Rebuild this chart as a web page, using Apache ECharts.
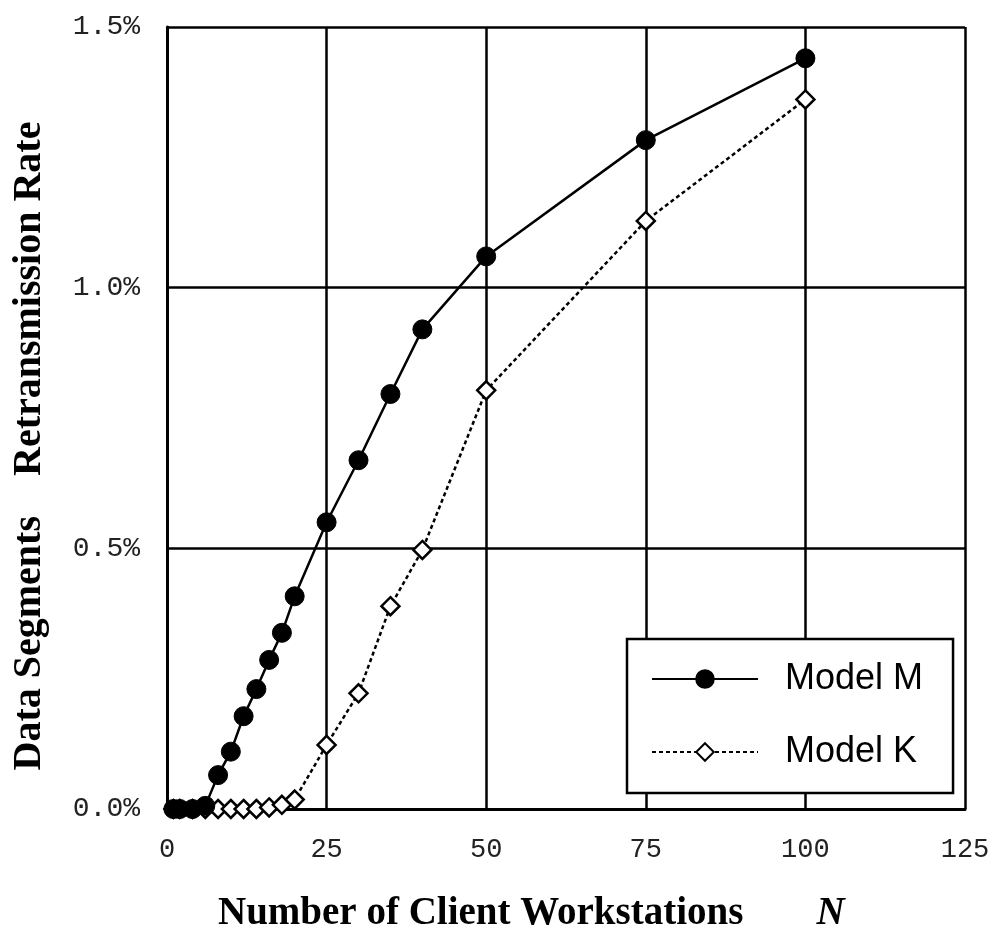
<!DOCTYPE html>
<html>
<head>
<meta charset="utf-8">
<script src="https://cdn.jsdelivr.net/npm/echarts@6/dist/echarts.min.js"></script>
<style>
  html, body { margin: 0; padding: 0; background: #fff; }
  #chart { width: 996px; height: 933px; }
</style>
</head>
<body>
<div id="chart"></div>
<script>
// Number of client workstations N
const workstations = [1, 2, 4, 6, 8, 10, 12, 14, 16, 18, 20, 25, 30, 35, 40, 50, 75, 100];
// Retransmission rate of data segments, in percent
const modelM = [0, 0, 0, 0.006, 0.065, 0.11, 0.178, 0.23, 0.286, 0.338, 0.408, 0.55, 0.669, 0.796, 0.92, 1.06, 1.283, 1.44];
const modelK = [0, 0, 0, 0, 0, 0, 0, 0, 0.003, 0.008, 0.018, 0.123, 0.222, 0.389, 0.497, 0.803, 1.128, 1.361];
const seriesNames = ['Model M', 'Model K'];
const xTicks = [0, 25, 50, 75, 100, 125];
const yTicks = [0, 0.5, 1.0, 1.5];

const pairs = (xs, ys) => xs.map((x, i) => [x, ys[i]]);

const chart = echarts.init(document.getElementById('chart'), null, { renderer: 'canvas' });

const monoFamily = '"Liberation Mono", monospace';

chart.setOption({
  animation: false,
  backgroundColor: '#fff',
  grid: { left: 167, right: 31, top: 27, bottom: 124, containLabel: false },
  xAxis: {
    type: 'value',
    min: xTicks[0], max: xTicks[xTicks.length - 1], interval: xTicks[1] - xTicks[0],
    axisLine: { show: true, lineStyle: { color: '#000', width: 3 } },
    axisTick: { show: false },
    axisLabel: { margin: 27, fontFamily: monoFamily, fontSize: 27, color: '#222' },
    splitLine: { show: true, lineStyle: { color: '#000', width: 2.5 } }
  },
  yAxis: {
    type: 'value',
    min: yTicks[0], max: yTicks[yTicks.length - 1], interval: yTicks[1] - yTicks[0],
    axisLine: { show: true, lineStyle: { color: '#000', width: 3 } },
    axisTick: { show: false },
    axisLabel: { margin: 27, fontFamily: monoFamily, fontSize: 28, color: '#222', formatter: v => v.toFixed(1) + '%' },
    splitLine: { show: true, lineStyle: { color: '#000', width: 2.5 } }
  },
  legend: {
    data: seriesNames,
    orient: 'vertical',
    left: 627, top: 639,
    padding: [22, 30, 23, 24],
    itemWidth: 106, itemHeight: 22, itemGap: 37,
    backgroundColor: '#fff', borderColor: '#000', borderWidth: 2.5,
    textStyle: { fontFamily: '"Liberation Sans", Arial, sans-serif', fontSize: 36, color: '#000', padding: [0, 0, 0, 22] },
    z: 10
  },
  graphic: [
    {
      type: 'text', x: 218, y: 914, z: 20,
      style: {
        text: '{t|Number of Client Workstations}{sp|}{n|N}',
        verticalAlign: 'middle', align: 'left',
        rich: {
          t: { font: 'bold 39px "Liberation Serif", serif', fill: '#000' },
          sp: { width: 73 },
          n: { font: 'italic bold 39px "Liberation Serif", serif', fill: '#000' }
        }
      }
    },
    {
      type: 'text', x: 30, y: 446, rotation: Math.PI / 2, z: 20,
      style: {
        text: 'Data Segments    Retransmission Rate',
        font: 'bold 40px "Liberation Serif", serif', fill: '#000',
        align: 'center', verticalAlign: 'middle'
      }
    }
  ],
  series: [
    {
      name: seriesNames[1],
      type: 'line',
      data: pairs(workstations, modelK),
      symbol: 'diamond', symbolSize: 18,
      lineStyle: { color: '#000', width: 2.5, type: [4, 3] },
      itemStyle: { color: '#fff', borderColor: '#000', borderWidth: 2.5 },
      z: 3
    },
    {
      name: seriesNames[0],
      type: 'line',
      data: pairs(workstations, modelM),
      symbol: 'circle', symbolSize: 19,
      lineStyle: { color: '#000', width: 2.5 },
      itemStyle: { color: '#000', borderColor: '#000', borderWidth: 1 },
      z: 4
    }
  ]
});
</script>
</body>
</html>
